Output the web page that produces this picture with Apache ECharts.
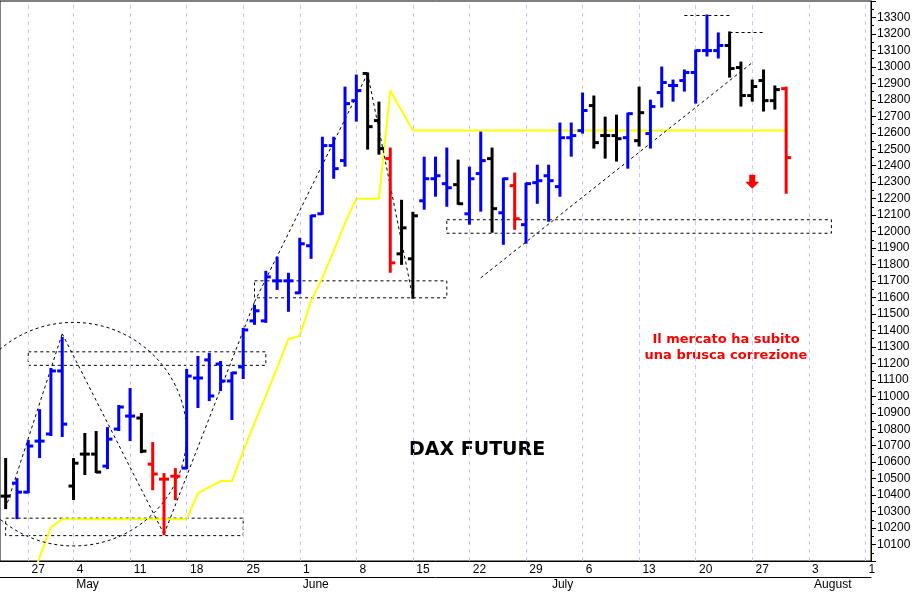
<!DOCTYPE html>
<html><head><meta charset="utf-8">
<script src="https://cdn.jsdelivr.net/npm/echarts@6/dist/echarts.min.js"></script>
<style>html,body{margin:0;padding:0;background:#fff}#c{width:921px;height:592px}</style>
</head><body><div id="c"></div>
<script>
const categories = ['2020-04-23','2020-04-24','2020-04-27','2020-04-28','2020-04-29','2020-04-30',
'2020-05-04','2020-05-05','2020-05-06','2020-05-07','2020-05-08','2020-05-11','2020-05-12','2020-05-13','2020-05-14','2020-05-15',
'2020-05-18','2020-05-19','2020-05-20','2020-05-21','2020-05-22','2020-05-25','2020-05-26','2020-05-27','2020-05-28','2020-05-29',
'2020-06-01','2020-06-02','2020-06-03','2020-06-04','2020-06-05','2020-06-08','2020-06-09','2020-06-10','2020-06-11','2020-06-12',
'2020-06-15','2020-06-16','2020-06-17','2020-06-18','2020-06-19','2020-06-22','2020-06-23','2020-06-24','2020-06-25','2020-06-26',
'2020-06-29','2020-06-30','2020-07-01','2020-07-02','2020-07-03','2020-07-06','2020-07-07','2020-07-08','2020-07-09','2020-07-10',
'2020-07-13','2020-07-14','2020-07-15','2020-07-16','2020-07-17','2020-07-20','2020-07-21','2020-07-22','2020-07-23','2020-07-24',
'2020-07-27','2020-07-28','2020-07-29','2020-07-30','2020-07-31','2020-08-03','2020-08-04','2020-08-05','2020-08-06','2020-08-07',
'2020-08-10'];
// [open, close, low, high]
const ohlc = [
[10394,10394,10321,10619],[10473,10418,10260,10497],[10418,10698,10418,10728],[10728,10728,10631,10916],[10771,11154,10765,11166],[11154,10831,10759,11354],
[10455,10594,10376,10619],[10649,10649,10528,10771],[10649,10540,10540,10783],[10576,10740,10564,10807],[10801,10935,10795,10941],
[10880,10880,10734,11044],[10868,10667,10661,10892],[10588,10528,10436,10716],[10497,10497,10163,10528],[10515,10515,10376,10558],
[10564,11123,10564,11160],[11111,11111,10935,11239],[11221,11002,10977,11257],[11196,11093,11038,11208],[11093,11142,10862,11142],
[11178,11403,11111,11409],[11458,11519,11440,11549],[11458,11725,11452,11756],[11701,11701,11652,11841],[11701,11701,11519,11744],
[11628,11926,11628,11956],[11914,12096,11841,12096],[12108,12522,12108,12570],[12522,12382,12327,12570],[12431,12777,12400,12874],
[12795,12856,12674,12947],[12960,12637,12504,12960],[12674,12504,12473,12783],[12443,11810,11756,12504],[11865,12023,11804,12187],
[11835,12096,11598,12114],[12187,12321,12139,12449],[12321,12339,12218,12449],[12291,12266,12157,12504],[12285,12169,12169,12431],
[12108,12321,12048,12388],[12352,12431,12127,12601],[12443,12139,11999,12504],[12114,12321,11926,12321],[12279,12078,12017,12352],
[12042,12291,11932,12291],[12297,12309,12175,12400],[12339,12309,12066,12400],[12273,12570,12218,12656],[12570,12583,12461,12656],
[12613,12735,12601,12838],[12765,12540,12510,12820],[12583,12583,12449,12692],[12583,12564,12431,12704],[12570,12716,12388,12716],
[12552,12722,12522,12874],[12595,12759,12510,12795],[12844,12905,12759,12996],[12887,12887,12795,12917],[12917,12966,12856,12978],
[12966,13099,12783,13099],[13099,13099,13069,13312],[13099,13130,13057,13203],[13130,12990,12941,13209],[12996,12826,12765,13026],
[12826,12881,12795,12917],[12917,12795,12735,12978],[12795,12862,12747,12881],[12868,12449,12236,12874]
];
const barColors = 'KBBBBBKKKBBBKRRRBBBBBBBBBBBBBBBBKKRKKBBBKBBKBRBBBBBBKKKBKBBBBBBBKKKKKR'.split('');
const yellow = [null,null,9820,10023,10205,10254,10254,10254,10254,10254,10254,10254,10254,10254,10254,10254,10254,10412,10448,10485,10485,
10667,10838,11002,11172,11348,11366,11579,11719,11883,12053,12200,12200,12200,12856,12735,12613,
12613,12613,12613,12613,12613,12613,12613,12613,12613,12613,12613,12613,12613,12613,12613,12613,12613,12613,12613,12613,12613,12613,12613,12613,12613,12613,12613,12613,12613,12613,12613,12613,12613];
const mondays = [2,6,11,16,21,26,31,36,41,46,51,56,61,66,71,76];
const dayLabels = {2:'27',6:'4',11:'11',16:'18',21:'25',26:'1',31:'8',36:'15',41:'22',46:'29',51:'6',56:'13',61:'20',66:'27',71:'3',76:'1'};
const monthStarts = {6:'May',26:'June',48:'July',71:'August'};
const rects = [[2,11270,23,11188],[-0.5,10260,21,10154],[22,11701,38.5,11598],[39,12072,73,11990]];
const trendLines = [[[-0.2,10320],[5,11380]],[[5,11380],[14,10163]],[[14,10163],[22.3,11573]],[[22.3,11573],[32,12960]],[[32,12960],[36,11598]],[[42.3,11719],[66.2,13026]],[[60.2,13312],[64.2,13312]],[[64,13209],[67,13209]]];

const colorMap = {B:'#0000ff',K:'#000000',R:'#ff0000'};
const chart = echarts.init(document.getElementById('c'));
const fontF = 'Liberation Sans, Arial, sans-serif';
const lab = {color:'#000',fontFamily:fontF,fontSize:12};
chart.setOption({
  animation:false,
  grid:{left:0,right:50,top:1,bottom:31,show:true,borderColor:'#000',borderWidth:1},
  xAxis:[{type:'category',data:categories,boundaryGap:true,
    axisLine:{lineStyle:{color:'#000'}},
    axisTick:{alignWithLabel:true,length:16,interval:(i)=>mondays.includes(i),lineStyle:{color:'#000'}},
    axisLabel:{interval:(i)=>mondays.includes(i),margin:3,
      formatter:(v,i)=>{const s=dayLabels[i]||'';return s.length===2?'{w|'+s+'}':'{o|'+s+'}';},
      rich:{w:Object.assign({padding:[0,0,0,20]},lab),o:Object.assign({padding:[0,0,0,13]},lab)}},
    splitLine:{show:false}},
   {type:'category',data:categories,position:'bottom',offset:16,boundaryGap:true,
    axisLine:{lineStyle:{color:'#000'}},
    axisTick:{alignWithLabel:true,length:15,interval:(i)=>i in monthStarts,lineStyle:{color:'#000'}},
    axisLabel:{interval:(i)=>i in monthStarts,margin:2,
      formatter:(v,i)=>monthStarts[i]?'{m'+i+'|'+monthStarts[i]+'}':'',
      rich:{m6:Object.assign({padding:[0,0,0,28]},lab),m26:Object.assign({padding:[0,0,0,32]},lab),
            m48:Object.assign({padding:[0,0,0,28]},lab),m71:Object.assign({padding:[0,0,0,48]},lab)}}}],
  yAxis:{type:'value',position:'right',min:10000,max:13400,interval:100,
    axisLine:{show:true,lineStyle:{color:'#000'}},
    axisTick:{show:true,length:5,lineStyle:{color:'#000'}},
    minorTick:{show:true,splitNumber:2,length:3,lineStyle:{color:'#000'}},
    splitLine:{show:false},
    axisLabel:{formatter:(v)=>(v<10100||v>13300)?'':String(v),color:'#000',fontFamily:fontF,fontSize:12,margin:6}},
  series:[
   {type:'line',data:mondays.map(()=>null),markLine:{silent:true,symbol:'none',label:{show:false},
     lineStyle:{color:'#c8c8f0',type:[4,4],width:1},data:mondays.map(m=>({xAxis:m}))}},
   {type:'line',data:yellow,symbol:'none',lineStyle:{color:'#ffff00',width:2},clip:true,z:2},
   {type:'custom',z:5,data:ohlc.map((d,i)=>[i,...d]),
    renderItem:(params,api)=>{
      const i=api.value(0);
      const x=api.coord([i,0])[0];
      const yo=api.coord([i,api.value(1)])[1], yc=api.coord([i,api.value(2)])[1];
      const yl=api.coord([i,api.value(3)])[1], yh=api.coord([i,api.value(4)])[1];
      const col=colorMap[barColors[i]];
      const st={stroke:col,lineWidth:3};
      return {type:'group',children:[
        {type:'line',shape:{x1:x,y1:yh-1,x2:x,y2:yl+1},style:st},
        {type:'line',shape:{x1:x-5,y1:yo,x2:x,y2:yo},style:st},
        {type:'line',shape:{x1:x,y1:yc,x2:x+5,y2:yc},style:st}]};
    },
    markArea:{silent:true,itemStyle:{color:'rgba(0,0,0,0)',borderColor:'#000',borderWidth:1,borderType:[3,3]},
      data:rects.map(r=>[{coord:[r[0],r[1]]},{coord:[r[2],r[3]]}])},
    markLine:{silent:true,symbol:'none',label:{show:false},lineStyle:{color:'#000',type:[3,3],width:1},
      data:trendLines.map(l=>[{coord:l[0]},{coord:l[1]}])}}
  ]
});
const c = chart.convertToPixel({gridIndex:0},[5.7,10770]);
const e2 = chart.convertToPixel({gridIndex:0},[16,11400]);
const a = chart.convertToPixel({gridIndex:0},[66.2,12297]);
chart.setOption({graphic:[
  {type:'ellipse',shape:{cx:c[0],cy:c[1],rx:e2[0]-c[0],ry:c[1]-e2[1]+8},style:{fill:'none',stroke:'#000',lineWidth:1,lineDash:[3,3]},z:3},
  {type:'polygon',shape:{points:[[a[0]-3,a[1]-8],[a[0]+3,a[1]-8],[a[0]+3,a[1]-1],[a[0]+7,a[1]-1],[a[0],a[1]+6],[a[0]-7,a[1]-1],[a[0]-3,a[1]-1]]},style:{fill:'#ff0000'},z:10},
  {type:'text',left:409,top:441,style:{text:'DAX FUTURE',font:'bold 19px "DejaVu Sans", sans-serif',fill:'#000'}},
  {type:'text',position:[726,332],style:{text:'Il mercato ha subito\nuna brusca correzione',font:'bold 13px "DejaVu Sans", sans-serif',fill:'#ff0000',textAlign:'center',lineHeight:16}}
]});
</script></body></html>
